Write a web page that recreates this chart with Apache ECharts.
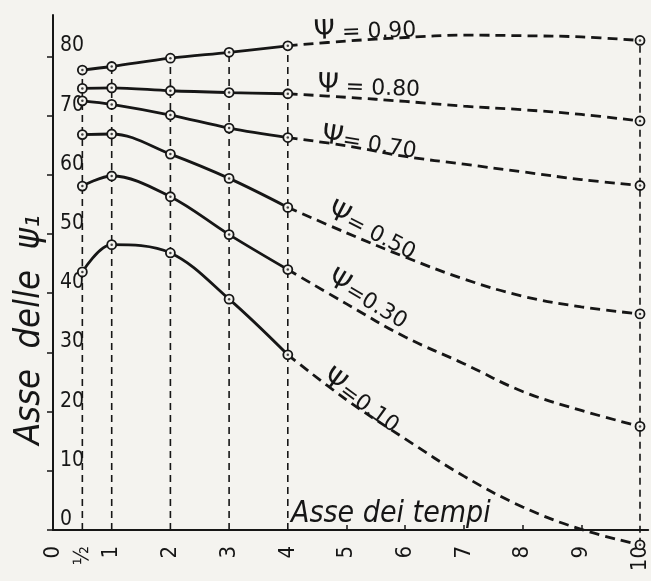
<!DOCTYPE html>
<html>
<head>
<meta charset="utf-8">
<script src="https://cdn.jsdelivr.net/npm/echarts@6/dist/echarts.min.js"></script>
<style>
html,body{margin:0;padding:0;background:#f4f3ef;}
#c{width:651px;height:581px;}
</style>
</head>
<body>
<div id="c"></div>
<script>
// ---- data ----
const times = [0.5, 1, 2, 3, 4];              // measured times (solid part)
const extTimes = [4, 5, 6, 7, 8, 9, 10];      // extrapolated part (dashed)
const psiNames = ['0.90', '0.80', '0.70', '0.50', '0.30', '0.10'];
const psi90 = [77.7, 78.3, 79.7, 80.7, 81.8];
const psi90ext = [81.8, 82.6, 83.2, 83.6, 83.5, 83.3, 82.7];
const psi80 = [74.6, 74.7, 74.2, 73.9, 73.7];
const psi80ext = [73.7, 73.1, 72.4, 71.6, 71.0, 70.2, 69.1];
const psi70 = [72.5, 71.9, 70.1, 67.9, 66.3];
const psi70ext = [66.3, 64.9, 63.1, 61.8, 60.5, 59.2, 58.2];
const psi50 = [66.8, 66.9, 63.5, 59.4, 54.5];
const psi50ext = [54.5, 50.2, 46.1, 42.4, 39.5, 37.7, 36.5];
const psi30 = [58.1, 59.8, 56.3, 49.9, 44.0];
const psi30ext = [44.0, 38.2, 32.6, 28.1, 23.4, 20.2, 17.5];
const psi10 = [43.6, 48.2, 46.8, 39.0, 29.6];
const psi10ext = [29.6, 22.0, 15.4, 9.1, 3.9, 0.1, -2.5];
const yTickValues = [0, 10, 20, 30, 40, 50, 60, 70, 80];
const xLabelValues = [0, 0.5, 1, 2, 3, 4, 5, 6, 7, 8, 9, 10];
const xTickValues = [5, 6, 7, 8, 9];
const guideTimes = [0.5, 1, 2, 3, 4, 10];     // vertical dashed guides

// ---- styling ----
const ink = '#161616';
const paper = '#f4f3ef';
const numFont = "'Liberation Sans Narrow', 'DejaVu Sans Condensed', 'Liberation Sans', sans-serif";
const lblFont = "'DejaVu Sans', 'Liberation Sans', sans-serif";

const solids = [psi90, psi80, psi70, psi50, psi30, psi10];
const exts = [psi90ext, psi80ext, psi70ext, psi50ext, psi30ext, psi10ext];
const labelText = ['{p|Ψ}{t| = 0.90}', '{p|Ψ}{t| = 0.80}', '{p|Ψ}{t|= 0.70}', '{p|Ψ}{t|= 0.50}', '{p|Ψ}{t|=0.30}', '{p|Ψ}{t|=0.10}'];
const labelPlace = [
  {offset: [21, -13], rotate: 2},
  {offset: [24, -10], rotate: -2},
  {offset: [28, -7], rotate: -9},
  {offset: [33, -15], rotate: -27},
  {offset: [35, -13], rotate: -31},
  {offset: [38, -3], rotate: -36}
];

const series = [];

// vertical dashed guide lines, from the lowest to the highest curve value at each time
guideTimes.forEach(t => {
  let vals;
  const i = times.indexOf(t);
  if (i >= 0) vals = solids.map(s => s[i]);
  else vals = exts.map(s => s[extTimes.indexOf(t)]);
  const lo = Math.min(0, Math.min.apply(null, vals));
  const hi = Math.max.apply(null, vals);
  series.push({
    type: 'line', data: [[t, lo], [t, hi]], symbol: 'none', clip: false, silent: true,
    lineStyle: {color: ink, width: 1.6, type: [7, 5]}, z: 1
  });
});

solids.forEach((s, k) => {
  series.push({
    type: 'line', clip: false, smooth: 0.35, z: 3,
    data: times.map((t, i) => {
      const d = {value: [t, s[i]]};
      if (i === times.length - 1) {
        d.label = {
          show: true, position: 'right', distance: 0,
          offset: labelPlace[k].offset, rotate: labelPlace[k].rotate,
          align: 'left', verticalAlign: 'middle',
          formatter: labelText[k],
          rich: {
            p: {fontSize: 27, color: ink, fontFamily: lblFont},
            t: {fontSize: 22, color: ink, fontFamily: lblFont, padding: [4, 0, 0, 0]}
          }
        };
      }
      return d;
    }),
    symbol: 'circle', symbolSize: 9,
    lineStyle: {color: ink, width: 2.8},
    itemStyle: {color: paper, borderColor: ink, borderWidth: 1.8}
  });
  const ext = exts[k];
  series.push({
    type: 'line', clip: false, smooth: 0.4, z: 2,
    data: extTimes.map((t, i) => ({
      value: [t, ext[i]],
      symbol: i === extTimes.length - 1 ? 'circle' : 'none'
    })),
    symbolSize: 9, showAllSymbol: true,
    lineStyle: {color: ink, width: 2.8, type: [10, 6]},
    itemStyle: {color: paper, borderColor: ink, borderWidth: 1.8}
  });
});

// centre dots of the small circles
const dots = [];
solids.forEach(s => times.forEach((t, i) => dots.push([t, s[i]])));
exts.forEach(s => dots.push([extTimes[extTimes.length - 1], s[s.length - 1]]));
series.push({
  type: 'scatter', data: dots, symbolSize: 2.5, clip: false, z: 5,
  itemStyle: {color: ink}, silent: true
});

const chart = echarts.init(document.getElementById('c'), null, {renderer: 'canvas'});
chart.setOption({
  backgroundColor: paper,
  animation: false,
  grid: {left: 53, right: 0, top: 15, bottom: 51},
  xAxis: {
    type: 'value', min: 0, max: 10.14,
    axisLine: {show: true, lineStyle: {color: ink, width: 2}},
    axisTick: {show: true, inside: true, length: 5, customValues: xTickValues, lineStyle: {color: ink, width: 1.5}},
    splitLine: {show: false},
    axisLabel: {
      show: true, rotate: 90, margin: 16, customValues: xLabelValues,
      color: ink, fontSize: 22, fontFamily: numFont,
      formatter: v => (v === 0.5 ? '½' : String(v))
    }
  },
  yAxis: {
    type: 'value', min: 0, max: 87, interval: 10,
    axisLine: {show: true, lineStyle: {color: ink, width: 2}},
    axisTick: {show: true, inside: false, length: 6, customValues: yTickValues, lineStyle: {color: ink, width: 1.5}},
    splitLine: {show: false},
    axisLabel: {
      show: true, inside: true, margin: 7, customValues: yTickValues,
      color: ink, fontSize: 21, fontFamily: numFont, verticalAlign: 'bottom'
    }
  },
  graphic: [
    {
      type: 'text', x: 30, y: 330, rotation: Math.PI / 2,
      style: {
        text: 'Asse  delle  ψ₁', fill: ink,
        font: "italic 36px 'Liberation Sans Narrow', 'DejaVu Sans Condensed', sans-serif",
        align: 'center', verticalAlign: 'middle'
      }
    },
    {
      type: 'text', x: 291, y: 529,
      style: {
        text: 'Asse dei tempi', fill: ink,
        font: "italic 30px 'Liberation Sans Narrow', 'DejaVu Sans Condensed', sans-serif",
        align: 'left', verticalAlign: 'bottom'
      }
    }
  ],
  series: series
});
</script>
</body>
</html>
